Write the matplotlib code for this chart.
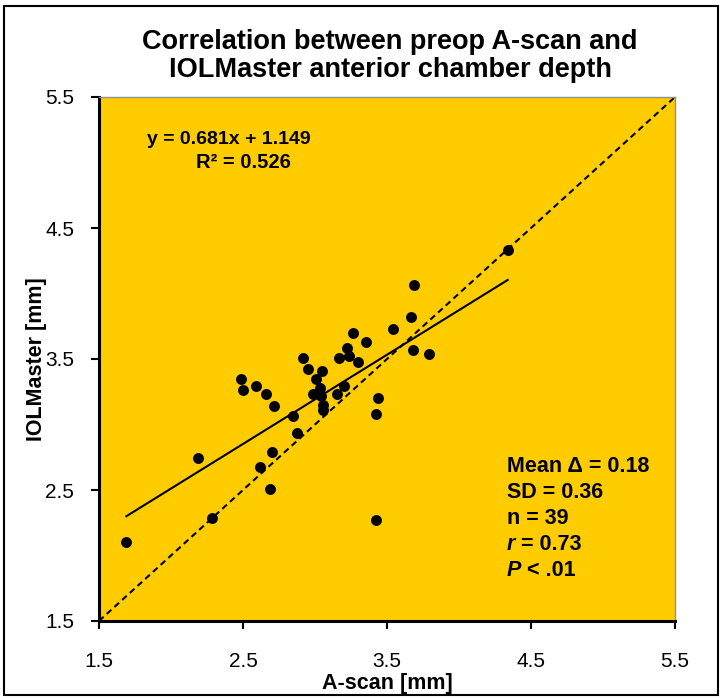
import matplotlib
matplotlib.use("Agg")
import matplotlib.pyplot as plt
from matplotlib.patches import Rectangle
import numpy as np

plt.rcParams['font.family'] = ['Liberation Sans', 'DejaVu Sans']

# Data
ascan = [1.69, 2.19, 2.285, 2.486, 2.50, 2.588, 2.66, 2.715, 2.618, 2.701,
         2.688, 2.849, 2.873, 2.919, 2.95, 3.05, 3.007, 3.035, 2.988, 3.04,
         3.20, 3.15, 3.058, 3.058, 3.164, 3.238, 3.222, 3.296, 3.354, 3.266,
         3.54, 3.67, 3.685, 3.682, 3.79, 3.44, 3.426, 3.426, 4.338]
iolmaster = [2.105, 2.742, 2.284, 3.347, 3.266, 3.296, 3.233, 3.141, 2.678, 2.788,
             2.505, 3.065, 2.933, 3.505, 3.424, 3.41, 3.347, 3.276, 3.235, 3.22,
             3.296, 3.235, 3.147, 3.11, 3.505, 3.52, 3.586, 3.474, 3.632, 3.696,
             3.727, 3.823, 4.063, 3.569, 3.538, 3.205, 3.078, 2.27, 4.332]
slope, intercept = 0.681, 1.149
ticks = [1.5, 2.5, 3.5, 4.5, 5.5]
tick_labels = ['1.5', '2.5', '3.5', '4.5', '5.5']
stats_lines = [("Mean \u0394 = 0.18", None), ("SD = 0.36", None), ("n = 39", None),
               ("r", " = 0.73"), ("P", " < .01")]

W, H = 722, 698
fig = plt.figure(figsize=(W / 100, H / 100), dpi=100)
fig.patch.set_facecolor('white')

def px(x, y):
    return x / W, 1 - y / H

# outer border
fig.patches.append(Rectangle((0.006, 0.004), 0.988, 0.988, transform=fig.transFigure,
                             fill=False, edgecolor='black', linewidth=1.5))

l, r, t, b = 99, 675, 97, 621
ax = fig.add_axes([l / W, 1 - b / H, (r - l) / W, (b - t) / H])
ax.set_facecolor('#FFCC00')
ax.set_xlim(1.5, 5.5)
ax.set_ylim(1.5, 5.5)

# identity line
ax.plot([1.5, 5.5], [1.5, 5.5], color='black', linestyle=(0, (3, 2)), linewidth=1.5, zorder=2)
# regression line
xr = np.array([min(ascan), max(ascan)])
ax.plot(xr, slope * xr + intercept, color='black', linewidth=1.5, zorder=2)
# points
ax.scatter(ascan, iolmaster, s=62, color='black', zorder=3, linewidths=0)

ax.set_xticks(ticks)
ax.set_xticklabels(tick_labels)
ax.set_yticks(ticks)
ax.set_yticklabels(tick_labels)
ax.tick_params(axis='both', direction='out', length=6, width=1.5, labelsize=15, colors='black')
ax.tick_params(axis='x', pad=16)
ax.tick_params(axis='y', pad=12)

for s in ['left', 'bottom']:
    ax.spines[s].set_color('black')
    ax.spines[s].set_linewidth(2.2)
for s in ['top', 'right']:
    ax.spines[s].set_color('#909090')
    ax.spines[s].set_linewidth(1.0)

# titles and labels
fig.text(*px(390, 42), "Correlation between preop A-scan and", ha='center', va='center',
         fontsize=19.5, fontweight='bold')
fig.text(*px(390, 70), "IOLMaster anterior chamber depth", ha='center', va='center',
         fontsize=19.5, fontweight='bold')
fig.text(*px(387, 683), "A-scan [mm]", ha='center', va='center', fontsize=15.5, fontweight='bold')
fig.text(*px(37, 359), "IOLMaster [mm]", ha='center', va='center', fontsize=15.5,
         fontweight='bold', rotation=90)

# equation
fig.text(*px(229, 140), "y = 0.681x + 1.149", ha='center', va='center', fontsize=14, fontweight='bold')
fig.text(*px(243, 162), "R\u00b2 = 0.526", ha='center', va='center', fontsize=14.5, fontweight='bold')

# stats block
ys = [467, 493, 519, 545, 570]
for (first, rest), yy in zip(stats_lines, ys):
    if rest is None:
        fig.text(*px(507, yy), first, ha='left', va='center', fontsize=15.5, fontweight='bold')
    else:
        tt = fig.text(*px(507, yy), first, ha='left', va='center', fontsize=15.5,
                      fontweight='bold', style='italic')
        fig.canvas.draw()
        ext = tt.get_window_extent()
        fig.text(ext.x1 / W, 1 - yy / H, rest, ha='left', va='center', fontsize=15.5, fontweight='bold')

fig.savefig('out.png', dpi=100)
